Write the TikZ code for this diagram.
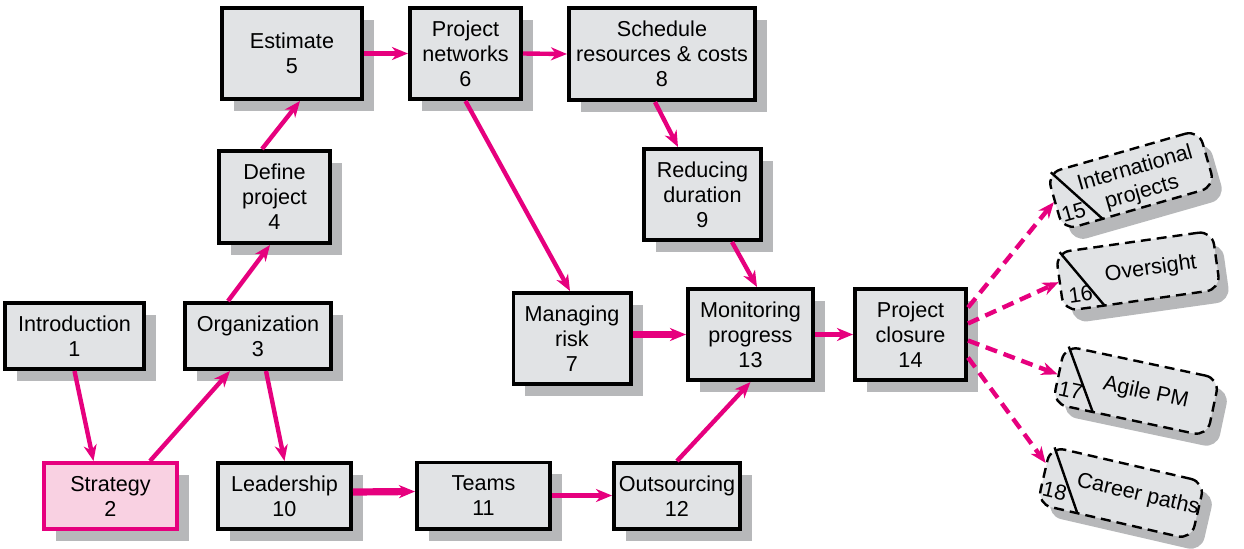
\documentclass[tikz,border=0pt]{standalone}
\usepackage{fontspec}
\setmainfont{Liberation Sans}
\usetikzlibrary{arrows.meta,shadows,calc}
\definecolor{pmpink}{HTML}{E6007E}
\definecolor{boxgray}{HTML}{E1E3E5}
\definecolor{shadowgray}{HTML}{B7B8BA}
\definecolor{stratpink}{HTML}{F9D1E2}
\begin{document}
\begin{tikzpicture}[x=0.5pt,y=0.5pt,
    font=\fontsize{10.8}{12.5}\selectfont,
    chap/.style={draw=black,line width=1.8pt,fill=boxgray,align=center,inner sep=0pt,
      drop shadow={shadow xshift=6pt,shadow yshift=-6pt,fill=shadowgray,opacity=1}},
    first/.style={chap,draw=pmpink,fill=stratpink},
    extra/.style={draw=black,line width=1.2pt,dash pattern=on 5pt off 3pt,rounded corners=7pt,
      fill=boxgray,minimum width=79pt,minimum height=29.5pt,inner sep=0pt,
      drop shadow={shadow xshift=5pt,shadow yshift=-6pt,fill=shadowgray,opacity=1}},
    link/.style={pmpink,line width=2.2pt,-{Stealth[length=8pt,width=6.5pt,inset=2.5pt]}},
    biglink/.style={link,line width=3.6pt},
    later/.style={link,dash pattern=on 6pt off 3.5pt}]
    \useasboundingbox (0,0) rectangle (1244,-548);

    \node[chap,minimum width=69.7pt,minimum height=33.2pt] (v1) at (74.5,-336) {Introduction\\1};
    \node[first,minimum width=66.7pt,minimum height=33.2pt] (v2) at (110.5,-496) {Strategy\\2};
    \node[chap,minimum width=73.2pt,minimum height=33.2pt] (v3) at (258,-336) {Organization\\3};
    \node[chap,minimum width=55.7pt,minimum height=46.2pt] (v4) at (274.5,-197) {Define\\project\\4};
    \node[chap,minimum width=70.2pt,minimum height=45.7pt] (v5) at (292,-53.5) {Estimate\\5};
    \node[chap,minimum width=55.7pt,minimum height=45.7pt] (v6) at (465.5,-53.5) {Project\\networks\\6};
    \node[chap,minimum width=58.7pt,minimum height=45.7pt] (v7) at (572,-338.5) {Managing\\risk\\7};
    \node[chap,minimum width=93.2pt,minimum height=46.2pt] (v8) at (662,-54) {Schedule\\resources \& costs\\8};
    \node[chap,minimum width=58.7pt,minimum height=45.7pt] (v9) at (702.5,-194.5) {Reducing\\duration\\9};
    \node[chap,minimum width=66.7pt,minimum height=33.2pt] (v10) at (284.5,-496) {Leadership\\10};
    \node[chap,minimum width=66.7pt,minimum height=33.2pt] (v11) at (483.5,-495.5) {Teams\\11};
    \node[chap,minimum width=63.2pt,minimum height=33.2pt] (v12) at (677,-496) {Outsourcing\\12};
    \node[chap,minimum width=62.7pt,minimum height=45.7pt] (v13) at (750.5,-334.5) {Monitoring\\progress\\13};
    \node[chap,minimum width=55.7pt,minimum height=45.7pt] (v14) at (910.5,-334.5) {Project\\closure\\14};

    % chapters 15-18, tilted
    \begin{scope}[shift={(1131,-180)},rotate=16,transform shape]
      \node[extra] (v15) at (0,0) {};
      \draw[line width=1.2pt] (-75,29.5) -- (-38,-29.5);
      \node (n15) at (-64,-15) {15};
      \node[align=center] (t15) at (7,-3) {International\\projects};
    \end{scope}
    \begin{scope}[shift={(1138,-271)},rotate=8,transform shape]
      \node[extra] (v16) at (0,0) {};
      \draw[line width=1.2pt] (-75,29.5) -- (-38,-29.5);
      \node (n16) at (-60,-15) {16};
      \node (t16) at (13,0) {Oversight};
    \end{scope}
    \begin{scope}[shift={(1136,-391)},rotate=-12,transform shape]
      \node[extra] (v17) at (0,0) {};
      \draw[line width=1.2pt] (-75,29.5) -- (-38,-29.5);
      \node (n17) at (-64,-13) {17};
      \node (t17) at (10,0) {Agile PM};
    \end{scope}
    \begin{scope}[shift={(1121,-493)},rotate=-13,transform shape]
      \node[extra] (v18) at (0,0) {};
      \draw[line width=1.2pt] (-75,29.5) -- (-38,-29.5);
      \node (n18) at (-65,-13) {18};
      \node (t18) at (17,2) {Career paths};
    \end{scope}

    \draw[link] (v1.south) -- ($(v2.north)+(-17,0)$);
    \draw[link] ($(v2.north)+(39.5,0)$) -- ($(v3.south)+(-28,0)$);
    \draw[link] ($(v3.south)+(8,0)$) -- (v10.north);
    \draw[link] ($(v3.north)+(-30,0)$) -- ($(v4.south)+(-4.5,0)$);
    \draw[link] ($(v4.north)+(-12.5,0)$) -- ($(v5.south)+(8,0)$);
    \draw[link] (v5.east) -- (v6.west);
    \draw[link] (v6.east) -- (v8.west);
    \draw[link] ($(v8.south)+(-7,0)$) -- ($(v9.north)+(-24.5,0)$);
    \draw[link] (v6.south) -- ($(v7.north)+(-2,0)$);
    \draw[link] ($(v9.south)+(29.5,0)$) -- ($(v13.north)+(6.5,0)$);
    \draw[biglink] (v13.west -| v7.east) -- (v13.west);
    \draw[link] (v13.east) -- (v14.west);
    \draw[biglink] ($(v10.east)+(0,4)$) -- ($(v11.west)+(0,4)$);
    \draw[link] (v11.east) -- (v11.east -| v12.west);
    \draw[link] (v12.north) -- (v13.south);
    \draw[later] ($(v14.east)+(0,27)$) -- (v15.west);
    \draw[later] ($(v14.east)+(0,11)$) -- (v16.west);
    \draw[later] ($(v14.east)+(0,-6)$) -- (v17.west);
    \draw[later] ($(v14.east)+(0,-23)$) -- ($(v18.north west)!0.3!(v18.south west)$);
\end{tikzpicture}
\end{document}
